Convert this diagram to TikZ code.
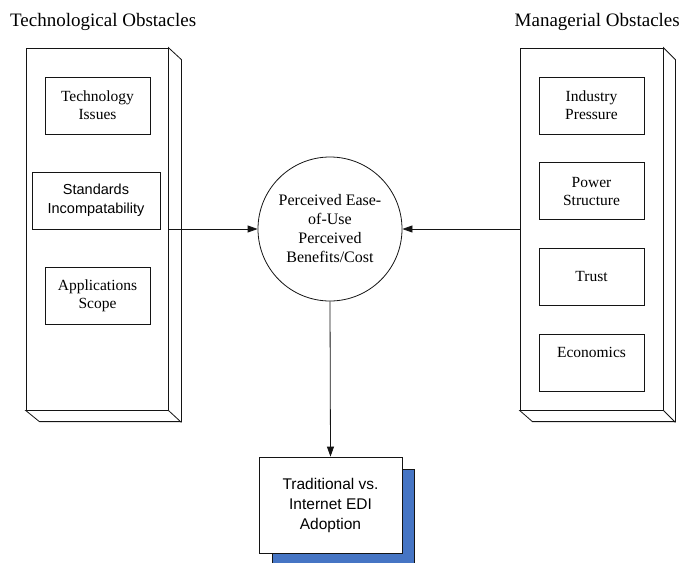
\documentclass[tikz,border=0pt]{standalone}
\usepackage{fontspec}
\setmainfont{Liberation Serif}
\newfontfamily\arialfont{Liberation Sans}
\usetikzlibrary{arrows.meta}
\definecolor{shadowblue}{RGB}{70,117,196}
\definecolor{linegray}{RGB}{20,20,20}
\tikzset{
  panel/.style={draw=linegray, line width=0.8pt, minimum width=142pt, minimum height=362pt, inner sep=0pt},
  panelside/.style={draw=linegray, line width=0.8pt, fill=white},
  item/.style={draw=linegray, line width=0.8pt, minimum width=105pt, minimum height=57pt, align=center, inner sep=0pt, font=\fontsize{15.5}{18}\selectfont},
  itemsans/.style={item, font=\arialfont\fontsize{14.5}{19}\selectfont},
  title/.style={font=\fontsize{19}{22}\selectfont, inner sep=0pt, anchor=base west},
  conn/.style={draw=linegray, line width=0.8pt, -{Triangle[length=10pt,width=7pt]}},
}
\begin{document}
\begin{tikzpicture}[x=1pt,y=-1pt]
\useasboundingbox (0,0) rectangle (681,563);

% titles
\node[title] (ttech) at (10,26) {Technological Obstacles};
\node[title, anchor=base east] (tman) at (680,26) {Managerial Obstacles};

% left panel (3D)
\node[panel] (lpanel) at (97,229) {};
\draw[panelside] (lpanel.north east) -- ++(13,12) -- ++(0,362) -- ++(-142,0) -- (lpanel.south west) -- (lpanel.south east) -- cycle;
\draw[panelside] (lpanel.south east) -- ++(13,12);

% right panel (3D)
\node[panel, minimum width=143pt] (rpanel) at (591.5,229) {};
\draw[panelside] (rpanel.north east) -- ++(12,12) -- ++(0,362) -- ++(-143,0) -- (rpanel.south west) -- (rpanel.south east) -- cycle;
\draw[panelside] (rpanel.south east) -- ++(12,12);

% left items
\node[item] (techiss) at (97.5,105.5) {Technology\\Issues};
\node[itemsans, minimum width=128pt] (stdinc) at (96,200.5) {Standards\\Incompatability};
\node[item] (appscope) at (97.5,295.5) {Applications\\Scope};

% right items
\node[item] (indpress) at (591.5,105.5) {Industry\\Pressure};
\node[item] (powstruct) at (591.5,191) {Power\\Structure};
\node[item] (trust) at (591.5,276.5) {Trust};
\node[item] (econ) at (591.5,362.5) {};
\node[font=\fontsize{15.5}{18}\selectfont, inner sep=0pt] (econtxt) at (591.5,352) {Economics};

% central circle
\node[draw=linegray, line width=0.8pt, circle, minimum size=144pt, inner sep=0pt, align=center,
      font=\fontsize{16}{19}\selectfont] (circ) at (330,229) {Perceived Ease-\\of-Use\\Perceived\\Benefits/Cost};

% adoption box with shadow
\fill[shadowblue, draw=linegray, line width=0.6pt] (272,469) rectangle (414,566);
\node[draw=linegray, line width=0.8pt, fill=white, minimum width=143pt, minimum height=96pt,
      inner sep=0pt, align=center, font=\arialfont\fontsize{15.5}{20}\selectfont] (adopt) at (330.5,505) {Traditional vs.\\Internet EDI\\Adoption};

% connectors
\draw[conn] (lpanel.east) -- (circ.west);
\draw[conn] (rpanel.west) -- (circ.east);
\draw[conn] (circ.south) -- (adopt.north);
\end{tikzpicture}
\end{document}
